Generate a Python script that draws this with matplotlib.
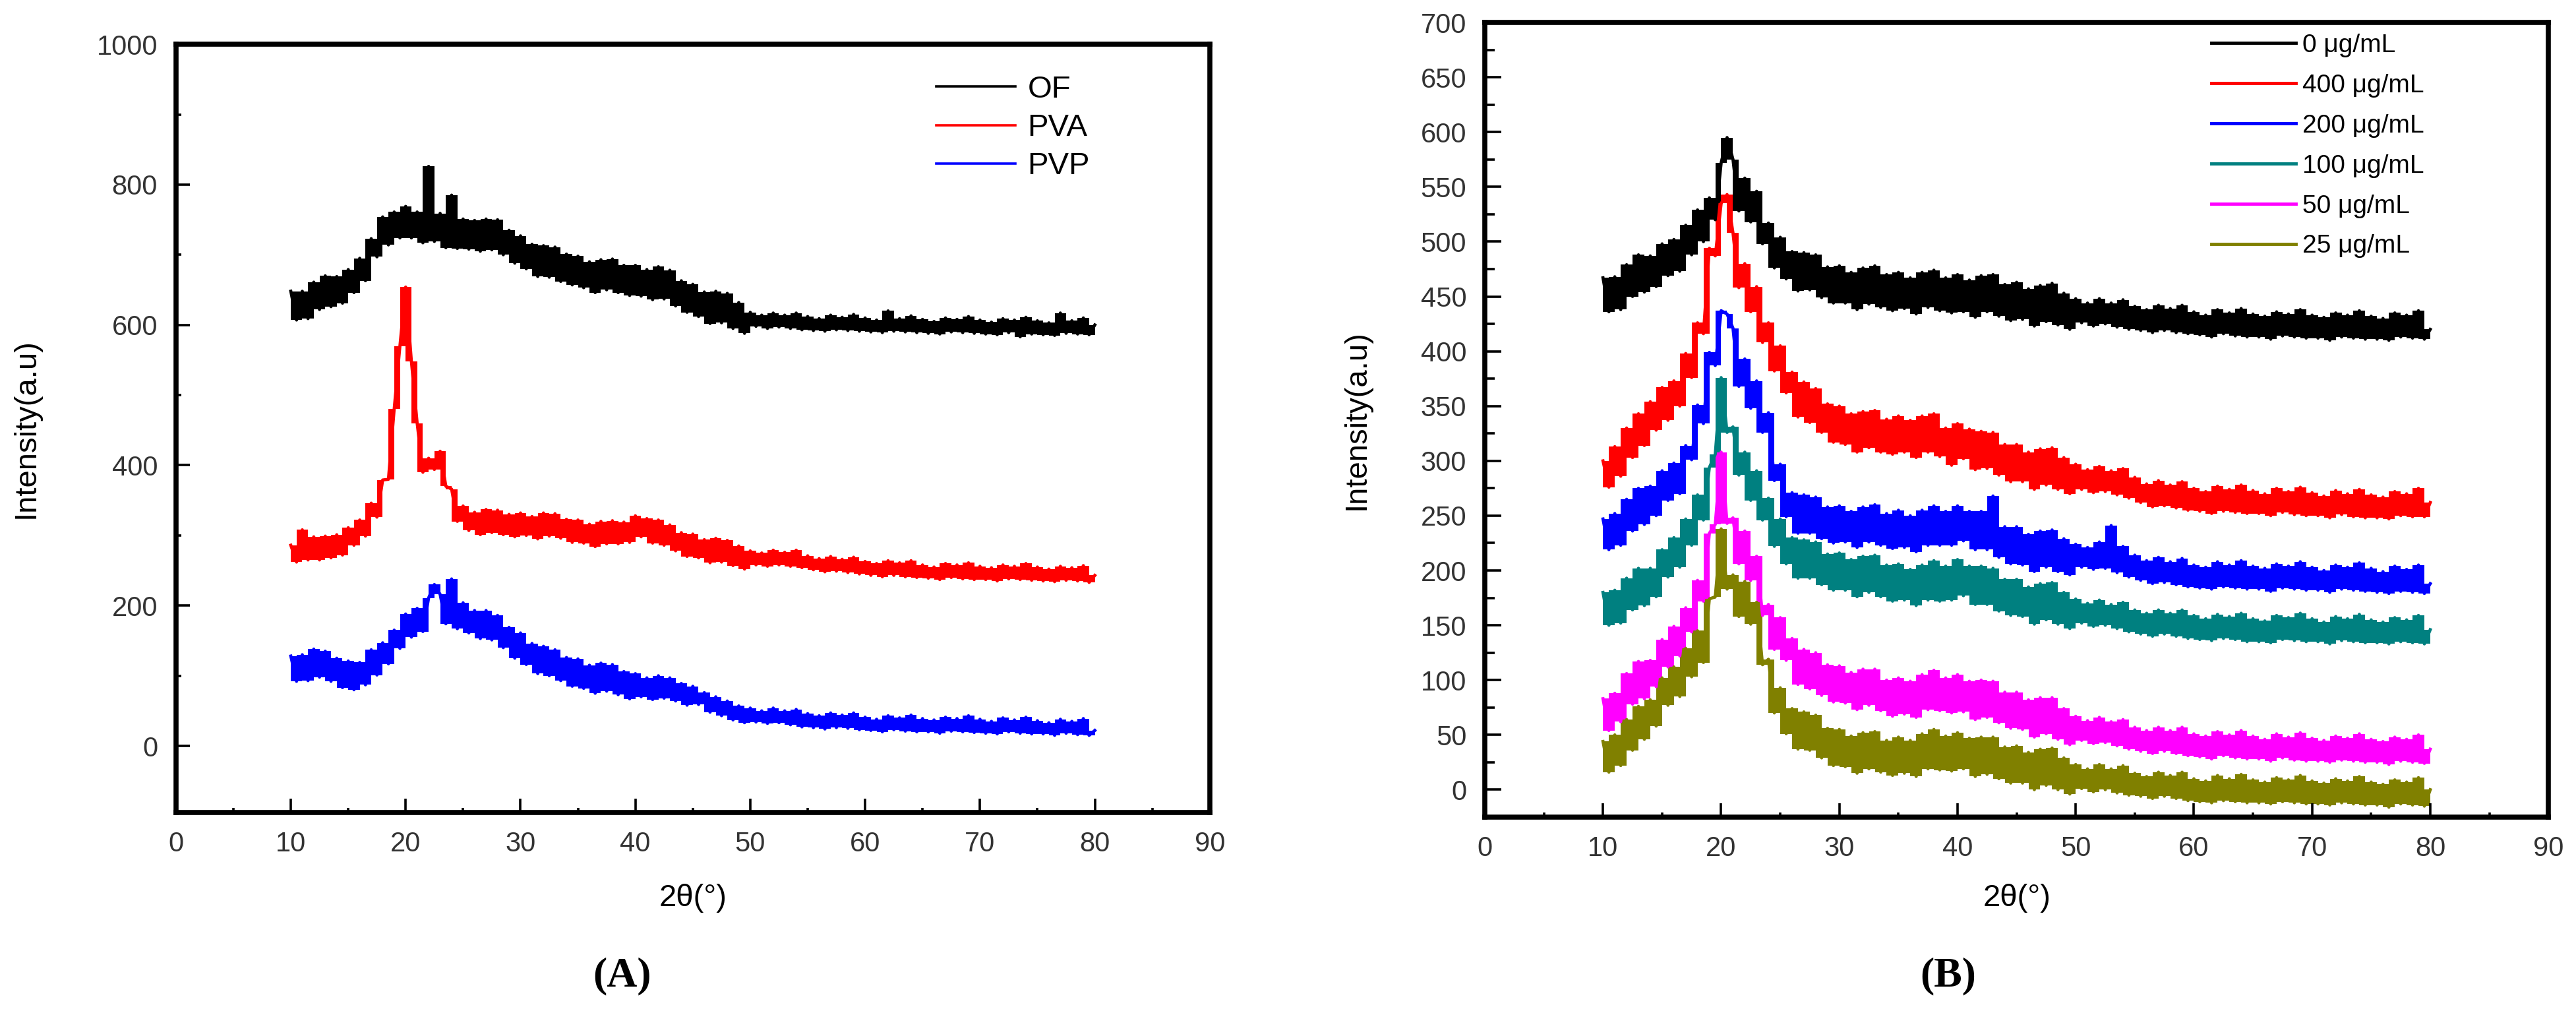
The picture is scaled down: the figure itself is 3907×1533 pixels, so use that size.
import numpy as np
import matplotlib
matplotlib.use('Agg')
import matplotlib.pyplot as plt
from matplotlib.lines import Line2D
from matplotlib.ticker import MultipleLocator

plt.rcParams['font.family'] = ['Liberation Sans', 'DejaVu Sans']

# 2theta positions of the read-off points (degrees), same for every pattern
two_theta = np.arange(10, 80.5, 0.5)

# ---- panel A: intensities (a.u.) ----
labels_A = ['OF', 'PVA', 'PVP']
colors_A = ['#000000', '#ff0000', '#0000ff']

of_counts = [648, 607, 648, 609, 661, 622, 670, 626, 669, 631,
             679, 646, 695, 663, 723, 697, 754, 714, 761, 724,
             769, 724, 761, 717, 826, 719, 759, 710, 785, 709,
             751, 708, 749, 705, 751, 707, 750, 700, 735, 688,
             727, 680, 715, 669, 713, 668, 711, 662, 701, 657,
             698, 653, 690, 646, 693, 650, 694, 646, 685, 642,
             685, 641, 679, 636, 683, 637, 678, 627, 663, 618,
             658, 612, 647, 602, 648, 603, 645, 595, 632, 588,
             618, 598, 614, 595, 617, 597, 614, 595, 617, 593,
             612, 592, 609, 591, 614, 593, 611, 592, 615, 591,
             610, 590, 607, 589, 620, 591, 609, 590, 613, 589,
             608, 588, 605, 587, 610, 590, 608, 589, 612, 588,
             607, 587, 604, 586, 609, 589, 607, 583, 611, 587,
             606, 586, 603, 585, 617, 588, 606, 587, 610, 586,
             600]

pva_counts = [286, 262, 308, 265, 298, 265, 299, 268, 301, 272,
              311, 286, 322, 299, 346, 326, 379, 380, 480, 570,
              654, 548, 460, 390, 410, 394, 420, 370, 366, 320,
              342, 307, 333, 301, 337, 304, 336, 301, 330, 298,
              332, 300, 327, 295, 332, 299, 331, 296, 323, 290,
              322, 289, 316, 284, 320, 288, 321, 288, 319, 290,
              328, 298, 324, 289, 322, 286, 315, 278, 304, 270,
              302, 268, 294, 261, 296, 262, 293, 257, 285, 252,
              278, 258, 275, 256, 279, 258, 276, 256, 279, 254,
              271, 251, 267, 248, 270, 249, 266, 247, 269, 245,
              263, 243, 260, 241, 264, 243, 261, 241, 264, 240,
              258, 239, 255, 237, 260, 240, 258, 238, 261, 237,
              256, 237, 254, 235, 258, 238, 256, 237, 260, 236,
              255, 235, 252, 234, 256, 236, 254, 235, 257, 233,
              243]

pvp_counts = [128, 92, 130, 93, 138, 98, 135, 92, 125, 83,
              121, 80, 119, 87, 137, 101, 147, 117, 165, 139,
              188, 155, 196, 163, 211, 230, 216, 174, 238, 167,
              204, 161, 193, 153, 193, 151, 186, 140, 169, 125,
              161, 116, 146, 103, 142, 100, 137, 93, 126, 85,
              124, 82, 115, 75, 118, 78, 116, 73, 106, 67,
              103, 70, 97, 66, 100, 68, 97, 64, 89, 58,
              85, 59, 76, 48, 70, 43, 64, 37, 57, 33,
              54, 34, 50, 32, 54, 33, 50, 30, 52, 27,
              46, 26, 43, 24, 47, 26, 44, 25, 47, 23,
              41, 22, 38, 20, 43, 23, 40, 21, 44, 20,
              39, 20, 37, 18, 41, 21, 39, 20, 43, 19,
              38, 18, 35, 17, 40, 20, 37, 18, 41, 17,
              36, 17, 33, 15, 38, 18, 35, 16, 39, 15,
              22]

# ---- panel B: intensities (a.u.) ----
labels_B = ['0 μg/mL', '400 μg/mL', '200 μg/mL', '100 μg/mL', '50 μg/mL', '25 μg/mL']
colors_B = ['#000000', '#ff0000', '#0000ff', '#008080', '#ff00ff', '#808000']

c0_counts = [467, 436, 468, 438, 479, 450, 488, 454, 487, 459,
             498, 469, 502, 473, 515, 488, 529, 500, 540, 520,
             572, 595, 575, 528, 558, 518, 546, 498, 517, 476,
             504, 466, 491, 455, 490, 456, 488, 449, 477, 444,
             478, 444, 472, 438, 476, 443, 478, 440, 470, 437,
             472, 439, 467, 434, 472, 440, 474, 437, 467, 435,
             470, 436, 465, 431, 469, 436, 470, 432, 461, 428,
             463, 429, 457, 423, 460, 427, 462, 424, 453, 420,
             448, 426, 444, 423, 448, 425, 444, 422, 447, 420,
             441, 419, 438, 417, 442, 419, 439, 417, 442, 416,
             436, 415, 433, 413, 438, 416, 435, 414, 439, 413,
             434, 413, 432, 411, 436, 414, 434, 413, 438, 412,
             433, 412, 431, 410, 435, 413, 433, 412, 437, 411,
             432, 411, 430, 410, 435, 413, 433, 412, 437, 411,
             420]

c400_counts = [300, 276, 313, 286, 330, 303, 343, 314, 354, 328,
               367, 337, 373, 350, 398, 376, 426, 416, 494, 487,
               535, 543, 508, 458, 480, 436, 459, 408, 426, 382,
               405, 362, 381, 340, 372, 335, 366, 326, 352, 317,
               350, 315, 343, 308, 345, 312, 346, 308, 338, 306,
               341, 308, 337, 303, 341, 308, 343, 304, 330, 296,
               334, 302, 329, 292, 327, 293, 326, 287, 315, 281,
               315, 281, 308, 274, 311, 278, 312, 274, 303, 270,
               297, 274, 292, 271, 295, 272, 291, 269, 293, 266,
               285, 262, 279, 258, 282, 259, 278, 257, 281, 255,
               275, 254, 272, 252, 277, 254, 274, 253, 278, 252,
               273, 252, 270, 250, 275, 253, 272, 251, 276, 250,
               271, 250, 268, 248, 273, 251, 270, 249, 274, 248,
               269, 248, 267, 247, 272, 250, 270, 249, 275, 249,
               262]

c200_counts = [247, 219, 252, 223, 265, 236, 275, 242, 277, 250,
               291, 264, 298, 270, 314, 301, 351, 334, 399, 387,
               437, 434, 421, 368, 393, 348, 373, 326, 344, 282,
               297, 249, 271, 234, 269, 234, 267, 229, 258, 225,
               259, 226, 254, 221, 258, 226, 260, 223, 252, 220,
               255, 221, 250, 217, 255, 223, 259, 223, 254, 223,
               259, 227, 254, 219, 254, 219, 268, 212, 240, 206,
               240, 205, 233, 199, 236, 203, 237, 199, 229, 196,
               224, 203, 221, 201, 226, 202, 241, 198, 222, 194,
               214, 191, 209, 188, 212, 189, 208, 187, 211, 185,
               205, 184, 203, 183, 208, 185, 205, 184, 209, 183,
               204, 183, 202, 181, 206, 184, 204, 183, 208, 182,
               203, 182, 200, 180, 205, 183, 203, 182, 207, 181,
               202, 180, 199, 179, 204, 181, 201, 180, 205, 179,
               188]

c100_counts = [180, 150, 182, 152, 193, 164, 202, 168, 202, 176,
               219, 194, 230, 203, 247, 223, 269, 246, 294, 306,
               376, 326, 331, 287, 308, 264, 291, 246, 266, 222,
               247, 206, 230, 193, 228, 193, 226, 187, 215, 182,
               216, 182, 210, 176, 213, 180, 214, 176, 205, 172,
               206, 173, 201, 168, 205, 173, 209, 172, 204, 173,
               210, 177, 204, 169, 204, 169, 202, 163, 192, 159,
               192, 158, 185, 151, 188, 155, 189, 151, 180, 147,
               174, 152, 170, 149, 173, 150, 169, 147, 171, 144,
               164, 142, 161, 140, 164, 142, 161, 140, 164, 138,
               159, 137, 156, 136, 160, 138, 158, 137, 161, 135,
               156, 135, 154, 134, 159, 137, 157, 136, 161, 135,
               156, 135, 153, 133, 158, 136, 156, 135, 160, 134,
               155, 134, 153, 133, 157, 135, 155, 134, 159, 133,
               146]

c50_counts = [83, 54, 88, 62, 106, 78, 117, 83, 118, 94,
              137, 112, 149, 122, 166, 144, 191, 172, 234, 242,
              308, 243, 248, 206, 236, 191, 213, 159, 169, 128,
              157, 118, 138, 96, 128, 92, 125, 86, 114, 80,
              113, 79, 107, 73, 110, 77, 110, 72, 100, 67,
              102, 69, 99, 66, 105, 73, 109, 72, 102, 70,
              105, 71, 99, 64, 100, 66, 99, 61, 89, 56,
              89, 55, 82, 48, 84, 51, 84, 46, 74, 41,
              67, 45, 63, 42, 66, 43, 62, 40, 64, 37,
              57, 35, 54, 33, 57, 35, 54, 33, 57, 31,
              51, 30, 49, 28, 53, 31, 50, 29, 54, 28,
              49, 28, 46, 26, 51, 29, 48, 27, 52, 26,
              47, 26, 45, 25, 49, 27, 47, 26, 51, 25,
              46, 25, 44, 23, 48, 26, 46, 25, 50, 24,
              37]

c25_counts = [44, 16, 50, 22, 64, 36, 76, 46, 82, 58,
              102, 77, 112, 85, 129, 103, 145, 116, 174, 176,
              238, 183, 196, 158, 190, 151, 171, 114, 119, 70,
              93, 51, 74, 37, 71, 36, 68, 29, 56, 22,
              55, 21, 49, 15, 52, 19, 53, 16, 45, 13,
              48, 15, 45, 12, 51, 19, 55, 18, 49, 17,
              52, 19, 47, 12, 48, 14, 48, 10, 39, 6,
              40, 6, 34, 0, 37, 4, 38, 0, 29, -4,
              23, 1, 19, -2, 23, 0, 19, -3, 22, -5,
              15, -6, 12, -8, 16, -6, 13, -8, 16, -10,
              10, -11, 8, -12, 13, -10, 10, -11, 14, -12,
              9, -12, 7, -13, 11, -11, 9, -12, 13, -13,
              8, -13, 6, -14, 10, -12, 8, -13, 12, -14,
              7, -14, 5, -16, 9, -13, 7, -14, 11, -15,
              0]

TICK_COLOR = '#333333'


# common look of both panels: thick frame, inward ticks, no ticks top/right
def style_axes(ax, ylim, ymajor, yminor, ymaj_len, ymin_len):
    ax.set_xlim(0, 90)
    ax.set_ylim(*ylim)
    ax.xaxis.set_major_locator(MultipleLocator(10))
    ax.xaxis.set_minor_locator(MultipleLocator(5))
    ax.yaxis.set_major_locator(MultipleLocator(ymajor))
    ax.yaxis.set_minor_locator(MultipleLocator(yminor))
    ax.tick_params(which='both', direction='in', top=False, right=False,
                   width=2.6, labelsize=30, labelcolor=TICK_COLOR)
    ax.tick_params(axis='x', which='major', length=15, pad=20)
    ax.tick_params(axis='x', which='minor', length=5)
    ax.tick_params(axis='y', which='major', length=ymaj_len, pad=20)
    ax.tick_params(axis='y', which='minor', length=ymin_len)
    for sp in ax.spines.values():
        sp.set_linewidth(5.5)


# noisy scans: the band between neighbouring readings is filled,
# then the readings themselves are drawn on top as a line
def draw_patterns(ax, series, colors):
    for vals, c in zip(series, colors):
        v = np.asarray(vals, dtype=float)
        nxt = np.append(v[1:], v[-1])
        ax.fill_between(two_theta, v, nxt, step='post', color=c, lw=0)
        ax.plot(two_theta, v, color=c, lw=3.4)


fig = plt.figure(figsize=(39.07, 15.33), dpi=100)
axA = fig.add_axes([0.0683, 0.1963, 0.4013, 0.7599])
axB = fig.add_axes([0.5764, 0.1918, 0.4129, 0.7860])

# panel A
draw_patterns(axA, [of_counts, pva_counts, pvp_counts], colors_A)
style_axes(axA, (-95, 1000), 200, 100, 15, 6)
axA.set_xlabel('2θ(°)', fontsize=34)
axA.set_ylabel('Intensity(a.u)', fontsize=34)
axA.xaxis.set_label_coords(0.5, -0.093)
axA.yaxis.set_label_coords(-0.131, 0.5)
hA = [Line2D([], [], color=c, lw=2.6) for c in colors_A]
axA.legend(hA, labels_A, loc='upper left', bbox_to_anchor=(1420 / 3907, 1 - 114 / 1533),
           bbox_transform=fig.transFigure, frameon=False, fontsize=34,
           handlelength=2.55, handletextpad=0.38, labelspacing=0.3,
           borderpad=0, borderaxespad=0)

# panel B
draw_patterns(axB, [c0_counts, c400_counts, c200_counts, c100_counts, c50_counts, c25_counts],
              colors_B)
style_axes(axB, (-25, 700), 50, 25, 18, 11)
axB.set_xlabel('2θ(°)', fontsize=34)
axB.set_ylabel('Intensity(a.u)', fontsize=34)
axB.xaxis.set_label_coords(0.5, -0.084)
axB.yaxis.set_label_coords(-0.1066, 0.5)
hB = [Line2D([], [], color=c, lw=3.5) for c in colors_B]
axB.legend(hB, labels_B, loc='upper left', bbox_to_anchor=(3354 / 3907, 1 - 51 / 1533),
           bbox_transform=fig.transFigure, frameon=False, fontsize=28,
           handlelength=3.3, handletextpad=0.26, labelspacing=0.64,
           borderpad=0, borderaxespad=0)

# panel tags under the plots
fig.text(943 / 3907, 1 - 1480 / 1533, '(A)', ha='center', va='center', fontsize=46,
         fontweight='bold', family='Liberation Serif')
fig.text(2955 / 3907, 1 - 1480 / 1533, '(B)', ha='center', va='center', fontsize=46,
         fontweight='bold', family='Liberation Serif')

fig.savefig('out.png', dpi=100, facecolor='white')
